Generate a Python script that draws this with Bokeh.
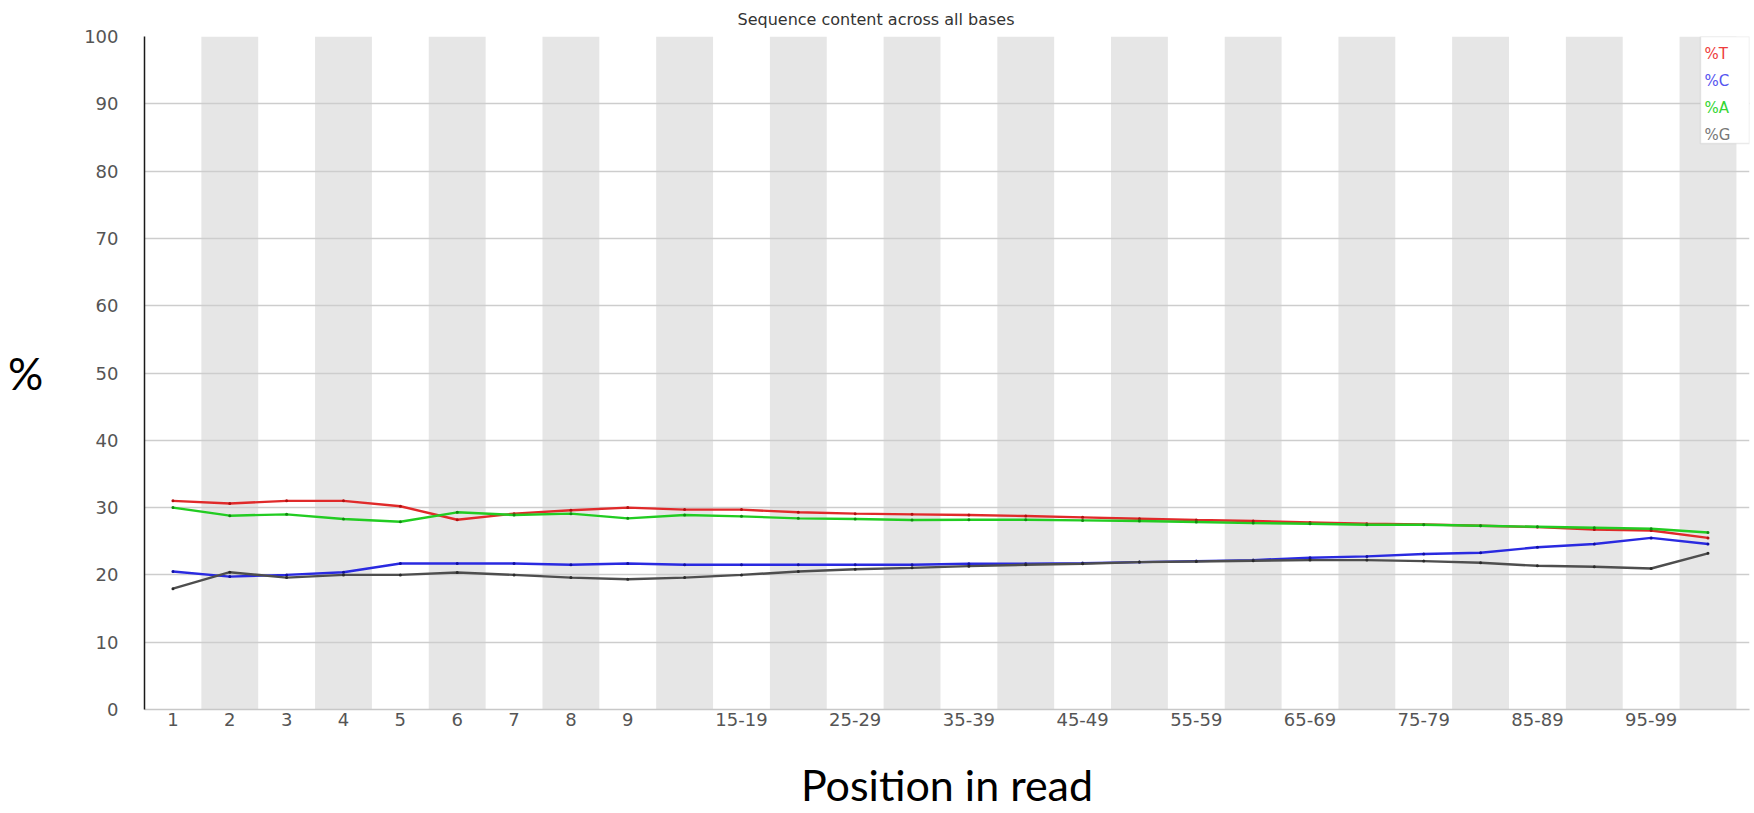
from bokeh.plotting import figure
from bokeh.models import Range1d, FixedTicker, Label, BoxAnnotation
from bokeh.embed import file_html
from bokeh.resources import INLINE

# ---------------- data ----------------
categories = ["1", "2", "3", "4", "5", "6", "7", "8", "9",
              "10-14", "15-19", "20-24", "25-29", "30-34", "35-39", "40-44",
              "45-49", "50-54", "55-59", "60-64", "65-69", "70-74", "75-79",
              "80-84", "85-89", "90-94", "95-99", "100-101"]

shown_tick_labels = ["1", "2", "3", "4", "5", "6", "7", "8", "9",
                     "15-19", "25-29", "35-39", "45-49", "55-59",
                     "65-69", "75-79", "85-89", "95-99"]

y_ticks = [0, 10, 20, 30, 40, 50, 60, 70, 80, 90, 100]

series_names = ["%T", "%C", "%A", "%G"]

pct_T = [31.0, 30.6, 31.0, 31.0, 30.2, 28.2, 29.1, 29.6, 30.0, 29.7, 29.7,
         29.3, 29.1, 29.0, 28.9, 28.75, 28.55, 28.35, 28.15, 28.0, 27.8,
         27.6, 27.5, 27.3, 27.1, 26.75, 26.6, 25.5]
pct_C = [20.5, 19.75, 20.0, 20.4, 21.7, 21.7, 21.7, 21.5, 21.7, 21.5, 21.5,
         21.5, 21.5, 21.5, 21.65, 21.65, 21.75, 21.9, 22.05, 22.2, 22.55,
         22.75, 23.1, 23.3, 24.1, 24.6, 25.5, 24.6]
pct_A = [30.0, 28.8, 29.0, 28.3, 27.9, 29.3, 28.9, 29.1, 28.4, 28.9, 28.7,
         28.4, 28.3, 28.15, 28.2, 28.2, 28.1, 28.0, 27.85, 27.7, 27.6,
         27.45, 27.45, 27.3, 27.15, 27.0, 26.85, 26.3]
pct_G = [17.96, 20.4, 19.6, 20.0, 20.0, 20.35, 20.0, 19.6, 19.35, 19.6, 20.0,
         20.5, 20.85, 21.05, 21.3, 21.5, 21.65, 21.9, 22.0, 22.1, 22.2,
         22.2, 22.05, 21.8, 21.35, 21.2, 20.95, 23.2]

series_values = [pct_T, pct_C, pct_A, pct_G]
line_colors = ["#e02a2a", "#2a2ae0", "#22cc22", "#4e4e4e"]
dot_colors = ["#b01010", "#1010a0", "#108a10", "#2a2a2a"]
legend_colors = ["#ee3c3c", "#5555f0", "#33d633", "#777777"]

# ---------------- figure ----------------
W, H = 1754, 813
FL, FR, FT, FB = 144, 5, 36, 104
frame_w = W - FL - FR
frame_h = H - FT - FB

p = figure(width=W, height=H, output_backend="svg", toolbar_location=None,
           x_range=Range1d(0, 28.23), y_range=Range1d(0, 100),
           min_border_left=FL, min_border_right=FR,
           min_border_top=FT, min_border_bottom=FB)
p.outline_line_color = None
p.background_fill_color = "white"
p.border_fill_color = "white"

# title
p.title.text = "Sequence content across all bases"
p.title.align = "left"
p.title.offset = 593
p.title.standoff = 15
p.title.text_font = "DejaVu Sans"
p.title.text_font_size = "16px"
p.title.text_font_style = "normal"
p.title.text_color = "#333333"

# alternating grey bands per category
band_left = [i for i in range(len(categories)) if i % 2 == 1]
band_right = [i + 1 for i in band_left]
p.quad(left=band_left, right=band_right, bottom=0, top=100,
       fill_color="#e6e6e6", line_color=None, level="image")

# grid & axes
p.xgrid.grid_line_color = None
p.ygrid.grid_line_color = "#cdcdcd"
p.ygrid.grid_line_width = 1.5
p.yaxis.ticker = FixedTicker(ticks=y_ticks)

tick_pos = [categories.index(l) + 0.5 for l in shown_tick_labels]
p.xaxis.ticker = FixedTicker(ticks=tick_pos)
p.xaxis.major_label_overrides = {t: l for t, l in zip(tick_pos, shown_tick_labels)}

for ax in (p.xaxis, p.yaxis):
    ax.major_tick_line_color = None
    ax.minor_tick_line_color = None
    ax.major_tick_out = 0
    ax.major_tick_in = 0
    ax.major_label_text_font = "DejaVu Sans"
    ax.major_label_text_font_size = "18px"
    ax.major_label_text_color = "#555555"
    ax.axis_label_text_font = "Lato"
    ax.axis_label_text_font_style = "normal"
    ax.axis_label_text_color = "#000000"

p.xaxis.axis_line_color = "#c8c8c8"
p.xaxis.axis_line_width = 1.5
p.xaxis.major_label_standoff = 3
p.xaxis.axis_label = "Position in read"
p.xaxis.axis_label_text_font_size = "43px"
p.xaxis.axis_label_standoff = 30

p.yaxis.axis_line_color = "#1a1a1a"
p.yaxis.axis_line_width = 1.5
p.yaxis.major_label_standoff = 26
p.yaxis.axis_label = "%"
p.yaxis.axis_label_orientation = "horizontal"
p.yaxis.axis_label_text_font_size = "44px"
p.yaxis.axis_label_standoff = 38

# series
xs = [i + 0.5 for i in range(len(categories))]
for vals, lc, dc in zip(series_values, line_colors, dot_colors):
    p.line(xs, vals, line_color=lc, line_width=2.4)
    p.scatter(xs, vals, size=3, fill_color=dc, line_color=None)

# helper: canvas -> frame-relative screen coords
def fy(canvas_y):
    return (H - FB) - canvas_y

def fx(canvas_x):
    return canvas_x - FL

# legend box and entries (inside the plot frame, top right)
p.add_layout(BoxAnnotation(left=fx(1700), right=frame_w, top=frame_h, bottom=fy(143),
                           left_units="screen", right_units="screen",
                           top_units="screen", bottom_units="screen",
                           fill_color="white", fill_alpha=1.0,
                           line_color="#b8b8b8", line_width=1.5))
legend_y = [53, 80, 107, 134]
for name, col, ly in zip(series_names, legend_colors, legend_y):
    p.add_layout(Label(x=fx(1704), y=fy(ly), x_units="screen", y_units="screen",
                       text=name, text_align="left", text_baseline="middle",
                       text_font="DejaVu Sans", text_font_size="15px",
                       text_color=col))

open("out.html", "w").write(file_html(p, INLINE))
